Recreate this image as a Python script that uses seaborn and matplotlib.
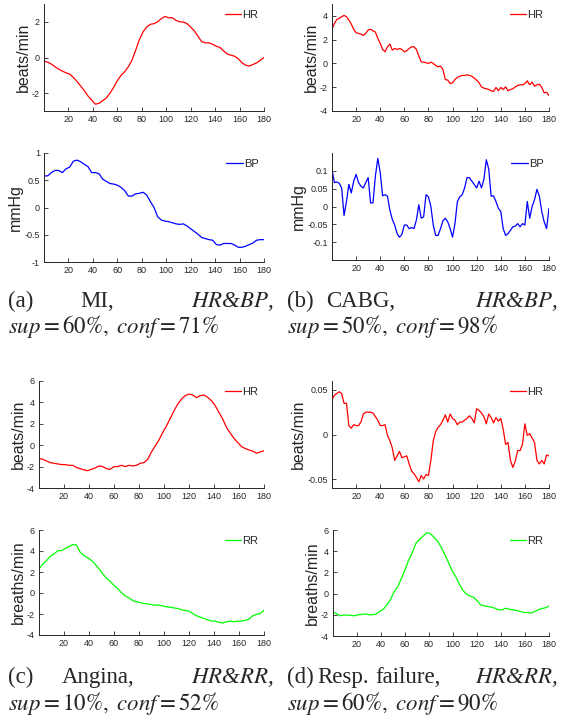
import numpy as np
import matplotlib
matplotlib.use("Agg")
import matplotlib.pyplot as plt
import seaborn as sns

# ---- data ----
x3 = np.arange(0, 181, 3)
x2 = np.arange(0, 181, 2)

mi_hr = [-0.2, -0.26, -0.37, -0.52, -0.65, -0.76, -0.86, -0.93, -1.12, -1.34,
         -1.6, -1.86, -2.16, -2.38, -2.62, -2.57, -2.42, -2.27, -2.0, -1.67,
         -1.3, -1.0, -0.8, -0.52, -0.15, 0.41, 1.0, 1.43, 1.71, 1.86,
         1.9, 2.0, 2.18, 2.3, 2.23, 2.23, 2.08, 2.0, 1.99, 1.9,
         1.71, 1.49, 1.19, 0.89, 0.82, 0.82, 0.74, 0.63, 0.56, 0.37,
         0.19, 0.13, 0.07, -0.07, -0.3, -0.43, -0.48, -0.39, -0.3, -0.15, 0.0]
mi_bp = [0.58, 0.58, 0.64, 0.68, 0.68, 0.64, 0.71, 0.74, 0.85, 0.87,
         0.84, 0.79, 0.75, 0.64, 0.64, 0.62, 0.52, 0.48, 0.44, 0.43,
         0.41, 0.37, 0.31, 0.21, 0.21, 0.25, 0.26, 0.28, 0.23, 0.11,
         0.0, -0.17, -0.23, -0.25, -0.26, -0.28, -0.3, -0.31, -0.3, -0.34,
         -0.39, -0.44, -0.49, -0.55, -0.57, -0.59, -0.6, -0.68, -0.69, -0.66,
         -0.66, -0.66, -0.69, -0.73, -0.73, -0.71, -0.68, -0.65, -0.6, -0.59, -0.59]

cabg_hr = [2.87, 3.37, 3.7, 3.8, 3.93, 4.04, 3.93, 3.65, 3.31, 2.87,
           2.58, 2.53, 2.47, 2.36, 2.53, 2.81, 2.87, 2.75, 2.64, 2.11,
           1.69, 1.18, 0.98, 1.4, 1.63, 1.12, 1.26, 1.18, 1.26, 1.18,
           0.98, 1.07, 1.26, 1.4, 1.4, 1.18, 0.62, 0.14, 0.11, 0.06,
           0.0, 0.11, 0.0, -0.17, -0.28, -0.22, -0.51, -1.35, -1.4, -1.69,
           -1.63, -1.35, -1.18, -1.07, -1.01, -1.01, -0.96, -1.01, -1.07, -1.24,
           -1.4, -1.63, -1.97, -2.08, -2.13, -2.19, -2.3, -2.36, -2.02, -2.3,
           -2.02, -2.19, -1.97, -2.3, -2.19, -2.13, -1.97, -1.85, -1.8, -1.8,
           -1.69, -1.46, -1.8, -1.57, -1.91, -1.8, -1.74, -2.02, -2.47, -2.42, -2.7]
cabg_bp = [0.103, 0.067, 0.069, 0.065, 0.052, -0.025, 0.014, 0.062, 0.038, 0.071,
           0.09, 0.067, 0.057, 0.052, 0.067, 0.081, 0.01, 0.01, 0.086, 0.135,
           0.095, 0.03, 0.033, 0.029, -0.01, -0.036, -0.052, -0.076, -0.086, -0.078,
           -0.052, -0.052, -0.062, -0.059, -0.062, -0.038, 0.005, -0.033, -0.029, 0.033,
           0.027, 0.0, -0.052, -0.081, -0.081, -0.062, -0.04, -0.033, -0.043, -0.062,
           -0.086, -0.048, 0.014, 0.027, 0.033, 0.052, 0.081, 0.081, 0.071, 0.062,
           0.052, 0.071, 0.052, 0.076, 0.131, 0.105, 0.029, 0.03, 0.014, -0.005,
           -0.014, -0.062, -0.081, -0.076, -0.067, -0.057, -0.055, -0.048, -0.057, -0.048,
           -0.052, 0.014, -0.033, 0.0, 0.019, 0.048, 0.029, -0.014, -0.043, -0.062, -0.005]

ang_hr = [-1.25, -1.31, -1.47, -1.63, -1.69, -1.75, -1.81, -1.81, -1.88, -1.88,
          -2.09, -2.19, -2.31, -2.38, -2.25, -2.13, -1.94, -2.0, -2.19, -2.25,
          -2.0, -2.0, -1.88, -2.0, -1.88, -1.94, -1.88, -1.69, -1.63, -1.31,
          -0.63, -0.06, 0.5, 1.19, 1.81, 2.5, 3.22, 3.84, 4.31, 4.63,
          4.78, 4.69, 4.44, 4.63, 4.69, 4.47, 4.16, 3.69, 3.06, 2.44,
          1.66, 1.13, 0.63, 0.25, -0.13, -0.31, -0.44, -0.56, -0.75, -0.63, -0.53]
ang_rr = [2.3, 2.74, 3.08, 3.49, 3.71, 4.03, 4.03, 4.25, 4.43, 4.62,
          4.56, 3.87, 3.55, 3.36, 3.11, 2.74, 2.3, 1.82, 1.42, 1.1,
          0.72, 0.41, 0.03, -0.28, -0.47, -0.72, -0.85, -0.91, -1.01, -1.04,
          -1.1, -1.16, -1.16, -1.23, -1.32, -1.35, -1.42, -1.48, -1.6, -1.67,
          -1.73, -1.95, -2.17, -2.3, -2.42, -2.55, -2.67, -2.67, -2.8, -2.86,
          -2.74, -2.67, -2.74, -2.67, -2.67, -2.61, -2.48, -2.17, -2.04, -1.95, -1.64]

resp_hr = [0.039, 0.044, 0.046, 0.048, 0.046, 0.035, 0.035, 0.01, 0.007, 0.011,
           0.01, 0.01, 0.014, 0.023, 0.025, 0.025, 0.025, 0.024, 0.02, 0.016,
           0.01, 0.01, 0.011, -0.001, -0.007, -0.015, -0.029, -0.024, -0.019, -0.026,
           -0.025, -0.024, -0.033, -0.041, -0.044, -0.048, -0.053, -0.046, -0.05, -0.045,
           -0.046, -0.029, -0.007, 0.003, 0.008, 0.011, 0.016, 0.022, 0.014, 0.023,
           0.018, 0.016, 0.011, 0.014, 0.014, 0.016, 0.018, 0.021, 0.018, 0.013,
           0.029, 0.027, 0.024, 0.02, 0.012, 0.023, 0.019, 0.013, 0.019, 0.015,
           0.018, 0.006, -0.011, -0.009, -0.029, -0.037, -0.03, -0.018, -0.018, -0.011,
           0.012, -0.001, 0.001, -0.004, -0.009, -0.029, -0.033, -0.029, -0.033, -0.023, -0.024]
resp_rr = [-1.72, -1.91, -2.09, -2.03, -2.03, -2.06, -2.09, -2.0, -1.97, -1.91,
           -2.0, -2.0, -1.91, -1.69, -1.47, -1.06, -0.53, 0.19, 0.66, 1.44,
           2.22, 3.16, 3.84, 4.72, 5.09, 5.41, 5.75, 5.66, 5.34, 4.97,
           4.41, 3.72, 3.0, 2.22, 1.66, 0.97, 0.34, -0.03, -0.22, -0.34,
           -0.66, -1.06, -1.16, -1.22, -1.28, -1.38, -1.53, -1.53, -1.38, -1.47,
           -1.53, -1.59, -1.69, -1.78, -1.78, -1.84, -1.69, -1.53, -1.41, -1.34, -1.16]

x_ticks = [20, 40, 60, 80, 100, 120, 140, 160, 180]

sns.set_style("ticks")
plt.rcParams["font.family"] = ["Liberation Sans", "DejaVu Sans"]
plt.rcParams["mathtext.fontset"] = "stix"

W, H = 567, 718
fig = plt.figure(figsize=(W / 100, H / 100), dpi=100)


def panel(left, top, right, bottom, xs, ys, color, name, ylabel, ylim, yticks):
    ax = fig.add_axes([left / W, 1 - bottom / H, (right - left) / W, (bottom - top) / H])
    sns.lineplot(x=xs, y=ys, ax=ax, color=color, linewidth=0.9, label=name,
                 estimator=None, sort=False)
    ax.set_xlim(0, 180)
    ax.set_ylim(*ylim)
    ax.set_xticks(x_ticks)
    ax.set_yticks(yticks)
    ax.set_yticklabels(["%g" % t for t in yticks])
    ax.tick_params(direction="in", length=3, width=0.6, labelsize=6.5, pad=3)
    for s in ["top", "right"]:
        ax.spines[s].set_visible(False)
    for s in ["left", "bottom"]:
        ax.spines[s].set_linewidth(0.7)
    ax.set_xlabel("")
    ax.set_ylabel(ylabel, fontsize=11.5, labelpad=1)
    ax.legend(loc="upper right", frameon=False, fontsize=8, handlelength=1.5,
              handletextpad=0.1, borderaxespad=0.2, borderpad=0.3)
    return ax


panel(44, 4, 264, 111, x3, mi_hr, "#ff0000", "HR", "beats/min", (-3, 3), [-2, 0, 2])
panel(44, 153, 264, 262, x3, mi_bp, "#0000ff", "BP", "mmHg", (-1, 1), [-1, -0.5, 0, 0.5, 1])
panel(332, 4, 549, 111, x2, cabg_hr, "#ff0000", "HR", "beats/min", (-4, 5), [-4, -2, 0, 2, 4])
panel(332, 153, 549, 260, x2, cabg_bp, "#0000ff", "BP", "mmHg", (-0.15, 0.15),
      [-0.1, -0.05, 0, 0.05, 0.1])
panel(39, 381, 264, 488, x3, ang_hr, "#ff0000", "HR", "beats/min", (-4, 6), [-4, -2, 0, 2, 4, 6])
panel(39, 530, 264, 635, x3, ang_rr, "#00ff00", "RR", "breaths/min", (-4, 6), [-4, -2, 0, 2, 4, 6])
panel(332, 381, 549, 488, x2, resp_hr, "#ff0000", "HR", "beats/min", (-0.06, 0.06), [-0.05, 0, 0.05])
panel(333, 530, 549, 636, x3, resp_rr, "#00ff00", "RR", "breaths/min", (-4, 6), [-4, -2, 0, 2, 4, 6])

# ---- captions (justified first line, words placed one by one) ----
cap = dict(family="Liberation Serif", fontsize=16.5, va="baseline")


def txt(px, py, s, ha="left", **kw):
    fig.text(px / W, 1 - py / H, s, ha=ha, **cap, **kw)


txt(8, 307, "(a)")
txt(80, 307, "MI,")
txt(274, 307, r"$HR$&$BP$,", ha="right", style="italic")
txt(8, 333, r"$sup=\mathrm{60\%},\ conf=\mathrm{71\%}$")

txt(287, 307, "(b)")
txt(326, 307, "CABG,")
txt(558, 307, r"$HR$&$BP$,", ha="right", style="italic")
txt(287, 333, r"$sup=\mathrm{50\%},\ conf=\mathrm{98\%}$")

txt(8, 683, "(c)")
txt(62, 683, "Angina,")
txt(274, 683, r"$HR$&$RR$,", ha="right", style="italic")
txt(8, 710, r"$sup=\mathrm{10\%},\ conf=\mathrm{52\%}$")

txt(287, 683, "(d)")
txt(317, 683, "Resp.")
txt(375, 683, "failure,")
txt(558, 683, r"$HR$&$RR$,", ha="right", style="italic")
txt(287, 710, r"$sup=\mathrm{60\%},\ conf=\mathrm{90\%}$")

fig.savefig("out.png", dpi=100)
